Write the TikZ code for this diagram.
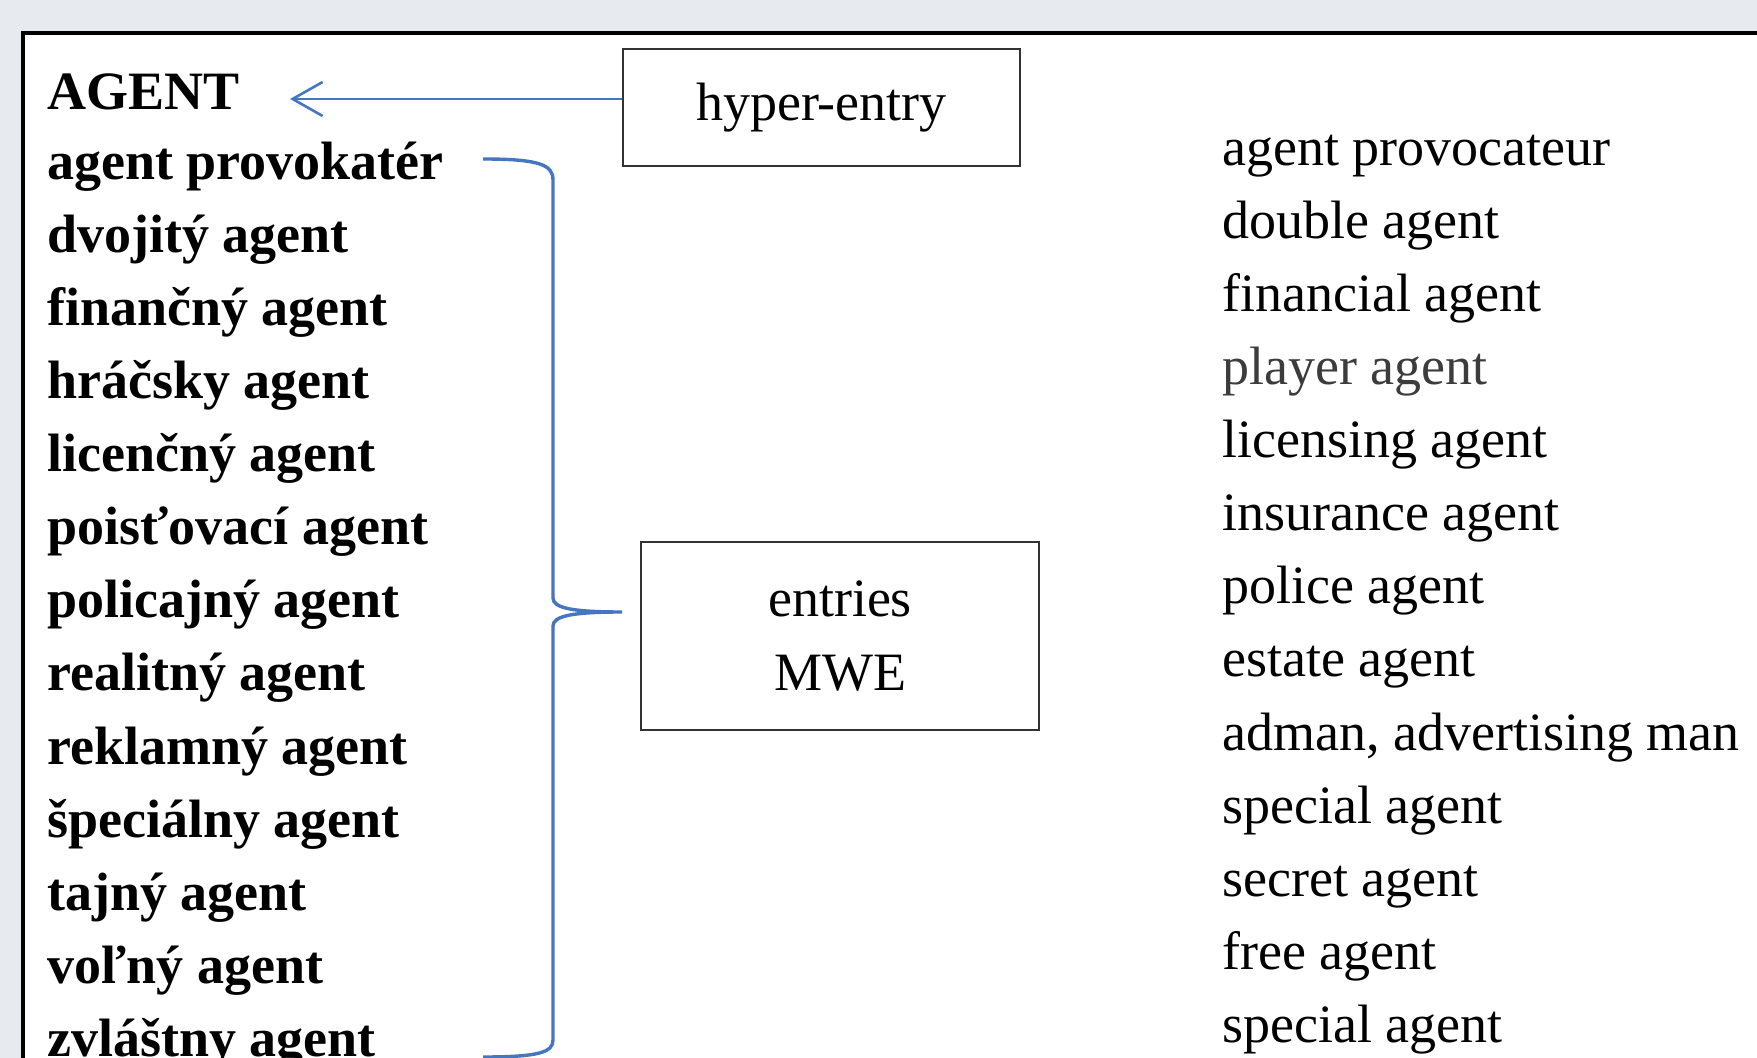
\documentclass[tikz,border=0pt]{standalone}
\usepackage{fontspec}
\setmainfont{Liberation Serif}
\usetikzlibrary{arrows.meta}
\definecolor{bgc}{RGB}{231,234,239}
\definecolor{lineblue}{RGB}{70,118,192}
\definecolor{boxgray}{RGB}{50,50,50}
\definecolor{softgray}{RGB}{60,60,60}
\tikzset{
  sk/.style={anchor=base west, inner sep=0pt, font=\fontsize{27pt}{32pt}\selectfont\bfseries},
  en/.style={anchor=base west, inner sep=0pt, font=\fontsize{27pt}{32pt}\selectfont},
  labelbox/.style={draw=boxgray, line width=0.85pt, fill=white, align=center, inner sep=0pt,
    font=\fontsize{27pt}{37pt}\selectfont},
  bluearrow/.style={draw=lineblue, line width=1.3pt, -{Straight Barb[length=15pt, width=17pt, line width=1.3pt]}},
  bracketline/.style={draw=lineblue, line width=1.7pt},
}
\begin{document}
\begin{tikzpicture}[x=0.5pt, y=-0.5pt]
\useasboundingbox (0,0) rectangle (1757,1058);
\clip (0,0) rectangle (1757,1058);
\fill[bgc] (0,0) rectangle (1757,1058);
\draw[black, line width=1.7pt, fill=white] (23,33) rectangle (1800,1120);

% left column (Slovak)
\node[sk] (s0) at (47,110) {AGENT};
\node[sk] (s1) at (47,180) {agent provokatér};
\node[sk] (s2) at (47,253) {dvojitý agent};
\node[sk] (s3) at (47,326) {finančný agent};
\node[sk] (s4) at (47,399) {hráčsky agent};
\node[sk] (s5) at (47,472) {licenčný agent};
\node[sk] (s6) at (47,545) {poisťovací agent};
\node[sk] (s7) at (47,618) {policajný agent};
\node[sk] (s8) at (47,691) {realitný agent};
\node[sk] (s9) at (47,764) {reklamný agent};
\node[sk] (s10) at (47,837) {špeciálny agent};
\node[sk] (s11) at (47,910) {tajný agent};
\node[sk] (s12) at (47,983) {voľný agent};
\node[sk] (s13) at (47,1056) {zvláštny agent};

% right column (English)
\node[en] (e0) at (1222,166) {agent provocateur};
\node[en] (e1) at (1222,239) {double agent};
\node[en] (e2) at (1222,312) {financial agent};
\node[en, text=softgray] (e3) at (1222,385) {player agent};
\node[en] (e4) at (1222,458) {licensing agent};
\node[en] (e5) at (1222,531) {insurance agent};
\node[en] (e6) at (1222,604) {police agent};
\node[en] (e7) at (1222,677) {estate agent};
\node[en] (e8) at (1222,750) {adman, advertising man};
\node[en] (e9) at (1222,823) {special agent};
\node[en] (e10) at (1222,896) {secret agent};
\node[en] (e11) at (1222,969) {free agent};
\node[en] (e12) at (1222,1042) {special agent};

% boxes
\node[labelbox, minimum width=198.5pt, minimum height=58.5pt] (hyper) at (821.5,107.5) {hyper-entry};
\node[labelbox, minimum width=199pt, minimum height=94pt] (mwe) at (840,636) {entries\\MWE};

% arrow from hyper-entry to AGENT
\coordinate (tip) at (290,99);
\draw[bluearrow] (hyper.west |- tip) -- (tip);

% bracket
\coordinate (btop) at (483,159);
\coordinate (bbot) at (483,1057);
\coordinate (bcusp) at (622,612);
\draw[bracketline] (btop) .. controls (540,159) and (553,165) .. (553,180)
  -- (553,598) .. controls (553,608) and (572,612) .. (bcusp)
  .. controls (572,612) and (553,616) .. (553,626)
  -- (553,1040) .. controls (553,1052) and (540,1057) .. (bbot);
\end{tikzpicture}
\end{document}
